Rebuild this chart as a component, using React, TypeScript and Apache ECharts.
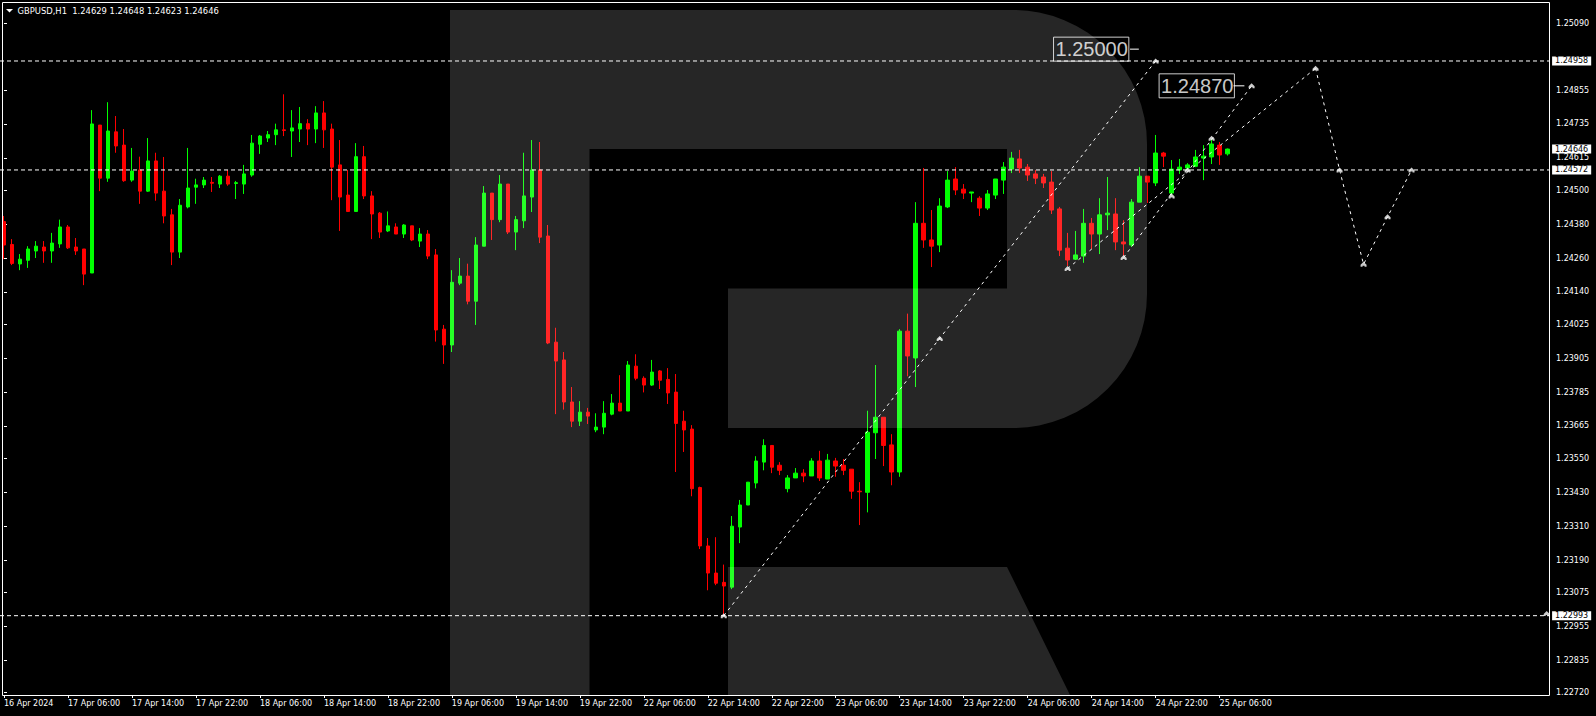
import React, { useEffect, useRef } from "react";
import * as echarts from "echarts";

// ---- candle data (GBPUSD H1), index 0 = 16 Apr 22:00 ----
const OPEN = [
  1.24389, 1.24308, 1.24239, 1.24252, 1.24285, 1.24299, 1.24285, 1.2431, 1.2437, 1.24299,
  1.24292, 1.24207, 1.24731, 1.24543, 1.24707, 1.2466, 1.24536, 1.24572, 1.24497, 1.24604,
  1.24497, 1.24413, 1.24281, 1.24441, 1.24511, 1.24519, 1.24528, 1.24522, 1.2455, 1.24524,
  1.24522, 1.24554, 1.24663, 1.24685, 1.24697, 1.24714, 1.2471, 1.24717, 1.24736, 1.24717,
  1.24774, 1.24717, 1.2459, 1.24483, 1.24425, 1.24619, 1.2448, 1.24419, 1.24356, 1.2437,
  1.24345, 1.24374, 1.2432, 1.24345, 1.24271, 1.24008, 1.23952, 1.24171, 1.24196, 1.24107,
  1.24302, 1.2449, 1.24396, 1.24522, 1.24352, 1.24392, 1.24476, 1.24572, 1.24338, 1.23962,
  1.23899, 1.2375, 1.23682, 1.23714, 1.23651, 1.23661, 1.23707, 1.23746, 1.23718, 1.23877,
  1.23834, 1.2381, 1.2386, 1.2383, 1.23785, 1.23682, 1.23654, 1.23447, 1.2324, 1.23144,
  1.23111, 1.23094, 1.23307, 1.23385, 1.23463, 1.23537, 1.23596, 1.23526, 1.23443, 1.23481,
  1.23498, 1.23488, 1.23541, 1.23477, 1.23541, 1.23526, 1.23512, 1.23434, 1.2343, 1.23641,
  1.23696, 1.23598, 1.23502, 1.24001, 1.23906, 1.24383, 1.24324, 1.24306, 1.24441, 1.2454,
  1.24504, 1.2449, 1.24472, 1.24437, 1.24483, 1.24536, 1.24575, 1.24611, 1.24582, 1.24558,
  1.24547, 1.24529, 1.24434, 1.24295, 1.24256, 1.24267, 1.24383, 1.24345, 1.24413, 1.24416,
  1.24317, 1.24306, 1.24458, 1.2455, 1.24526, 1.24632, 1.2449, 1.24572, 1.24579, 1.24585,
  1.24614, 1.24618, 1.2466, 1.24629,
];
const CLOSE = [
  1.24306, 1.24241, 1.24256, 1.24292, 1.24302, 1.24285, 1.24313, 1.2437, 1.24296, 1.24285,
  1.24203, 1.24735, 1.24543, 1.2471, 1.24657, 1.24534, 1.24568, 1.24497, 1.24604, 1.2449,
  1.24409, 1.24281, 1.24447, 1.24508, 1.24519, 1.24536, 1.24525, 1.2455, 1.24522, 1.24527,
  1.24558, 1.24667, 1.24692, 1.24697, 1.24714, 1.24712, 1.24721, 1.24736, 1.24717, 1.24774,
  1.24714, 1.24582, 1.24476, 1.24425, 1.24619, 1.2448, 1.24416, 1.24352, 1.24374, 1.24345,
  1.24377, 1.24324, 1.24345, 1.24267, 1.24005, 1.23952, 1.24174, 1.24196, 1.24107, 1.24306,
  1.2449, 1.24396, 1.24522, 1.24352, 1.24396, 1.2448, 1.24572, 1.24334, 1.23959, 1.23895,
  1.2375, 1.23682, 1.23714, 1.237, 1.23661, 1.2371, 1.23746, 1.23718, 1.23881, 1.23834,
  1.2381, 1.23856, 1.23827, 1.23782, 1.23674, 1.23651, 1.23443, 1.2324, 1.23144, 1.23108,
  1.23098, 1.2331, 1.23385, 1.23466, 1.23541, 1.23596, 1.23519, 1.23508, 1.23481, 1.23498,
  1.23488, 1.23541, 1.23481, 1.23544, 1.23523, 1.23508, 1.23434, 1.23432, 1.23643, 1.23696,
  1.23596, 1.23502, 1.24001, 1.23913, 1.24383, 1.24324, 1.24302, 1.24444, 1.24536, 1.24501,
  1.2449, 1.24494, 1.24437, 1.24487, 1.2454, 1.24582, 1.24614, 1.24579, 1.24554, 1.24543,
  1.24526, 1.2443, 1.24288, 1.24253, 1.24271, 1.24383, 1.24345, 1.24413, 1.24419, 1.24317,
  1.2431, 1.24458, 1.2455, 1.24529, 1.24632, 1.24621, 1.24575, 1.24582, 1.2459, 1.24618,
  1.24621, 1.24664, 1.24625, 1.24646,
];
const LOW = [
  1.24256, 1.24235, 1.24217, 1.24225, 1.2426, 1.24243, 1.24243, 1.24296, 1.24292, 1.24271,
  1.24164, 1.24207, 1.24497, 1.2453, 1.24633, 1.2453, 1.2453, 1.24452, 1.24494, 1.24463,
  1.24383, 1.24235, 1.2426, 1.24436, 1.24452, 1.24508, 1.24494, 1.24508, 1.24516, 1.24469,
  1.24487, 1.24548, 1.24629, 1.24671, 1.2466, 1.24692, 1.24618, 1.24671, 1.2466, 1.24667,
  1.2465, 1.24465, 1.24356, 1.24423, 1.24425, 1.24469, 1.24327, 1.24331, 1.24352, 1.24345,
  1.24331, 1.2432, 1.24299, 1.24256, 1.23964, 1.23885, 1.23927, 1.24164, 1.24096, 1.24023,
  1.24302, 1.24324, 1.24387, 1.24345, 1.24288, 1.24366, 1.24423, 1.24313, 1.23955, 1.23707,
  1.23723, 1.23661, 1.23665, 1.23672, 1.23643, 1.23636, 1.23703, 1.23718, 1.23718, 1.23827,
  1.23784, 1.23807, 1.23796, 1.23743, 1.23502, 1.23573, 1.23416, 1.23229, 1.23083, 1.23101,
  1.22993, 1.23087, 1.2325, 1.23385, 1.23444, 1.23508, 1.23498, 1.23491, 1.2343, 1.23481,
  1.23466, 1.23488, 1.2347, 1.23477, 1.23485, 1.23491, 1.23407, 1.23314, 1.23359, 1.23548,
  1.23523, 1.23455, 1.23485, 1.23841, 1.23803, 1.24296, 1.24228, 1.24281, 1.24437, 1.24483,
  1.24469, 1.24458, 1.24409, 1.2443, 1.24469, 1.24487, 1.24561, 1.24561, 1.24533, 1.24522,
  1.24508, 1.24416, 1.24267, 1.24232, 1.24253, 1.24243, 1.24292, 1.24274, 1.24359, 1.24288,
  1.24267, 1.24299, 1.24458, 1.24455, 1.24515, 1.24582, 1.24483, 1.24558, 1.24572, 1.24582,
  1.24536, 1.24593, 1.2459, 1.24623,
];
const HIGH = [
  1.24409, 1.24327, 1.24274, 1.24302, 1.2432, 1.2432, 1.24349, 1.24396, 1.24377, 1.24331,
  1.24292, 1.24784, 1.24731, 1.24812, 1.24763, 1.24717, 1.2465, 1.24619, 1.24685, 1.24633,
  1.24618, 1.24434, 1.24469, 1.2465, 1.24541, 1.24547, 1.24547, 1.24554, 1.24572, 1.24533,
  1.2459, 1.24696, 1.24696, 1.2471, 1.24736, 1.2484, 1.24784, 1.24795, 1.24752, 1.24798,
  1.24816, 1.24736, 1.24678, 1.24572, 1.24667, 1.24657, 1.24497, 1.24423, 1.24425, 1.24383,
  1.2438, 1.24374, 1.24366, 1.24359, 1.24292, 1.24023, 1.24217, 1.2426, 1.2424, 1.24334,
  1.24515, 1.2449, 1.24554, 1.24522, 1.24409, 1.24633, 1.24678, 1.24671, 1.24377, 1.24013,
  1.23927, 1.23803, 1.23753, 1.23729, 1.2371, 1.23753, 1.23778, 1.23845, 1.23895, 1.23919,
  1.23841, 1.23899, 1.23863, 1.2387, 1.23849, 1.23719, 1.23668, 1.2345, 1.23268, 1.23271,
  1.23174, 1.23346, 1.23403, 1.23466, 1.23558, 1.23618, 1.23596, 1.23537, 1.23491, 1.23516,
  1.23512, 1.23551, 1.23577, 1.23566, 1.23552, 1.23548, 1.23512, 1.23466, 1.23719, 1.23881,
  1.23696, 1.23636, 1.24008, 1.24063, 1.24458, 1.24579, 1.2443, 1.24472, 1.24568, 1.24582,
  1.24522, 1.24494, 1.24479, 1.24501, 1.2454, 1.246, 1.24636, 1.24643, 1.24593, 1.24572,
  1.24558, 1.24568, 1.24441, 1.24349, 1.24356, 1.24434, 1.24402, 1.24472, 1.24547, 1.24472,
  1.24394, 1.24469, 1.24582, 1.2455, 1.24696, 1.24636, 1.24607, 1.24611, 1.24596, 1.24643,
  1.2466, 1.24682, 1.24671, 1.24648,
];

// time labels, one every LABEL_STEP bars starting at bar 0
const LABEL_STEP = 8;
const TIME_LABELS = [
  "16 Apr 2024", "17 Apr 06:00", "17 Apr 14:00", "17 Apr 22:00", "18 Apr 06:00",
  "18 Apr 14:00", "18 Apr 22:00", "19 Apr 06:00", "19 Apr 14:00", "19 Apr 22:00",
  "22 Apr 06:00", "22 Apr 14:00", "22 Apr 22:00", "23 Apr 06:00", "23 Apr 14:00",
  "23 Apr 22:00", "24 Apr 06:00", "24 Apr 14:00", "24 Apr 22:00", "25 Apr 06:00",
];
const BAR_SLOTS = 194;

// price axis
const Y_MIN = 1.22712;
const Y_MAX = 1.25167;
const Y_TICKS = [
  1.2272, 1.22835, 1.22955, 1.23075, 1.2319, 1.2331, 1.2343, 1.2355, 1.23665, 1.23785,
  1.23905, 1.24025, 1.2414, 1.2426, 1.2438, 1.245, 1.24615, 1.24735, 1.24855, 1.2509,
];

// horizontal levels (dashed) and current price box
const LEVELS = [1.24958, 1.24572, 1.22993];
const CURRENT_PRICE = 1.24646;
const LINE_END = 193.2;

// analysis drawings (bar index, price)
const LINE_TARGET = [[90, 1.22993], [144, 1.24958]];
const LINE_CHANNEL = [[133, 1.24223], [164, 1.24932]];
const LINE_TARGET2 = [[140, 1.24262], [156, 1.2487]];
const LINE_FORECAST = [[164, 1.24932], [167, 1.24572], [170, 1.24238], [173, 1.24406], [176, 1.24572]];
const MARKERS = [
  [90, 1.22993], [117, 1.23975], [144, 1.24958], [133, 1.24223], [140, 1.24262],
  [146, 1.2448], [148, 1.24572], [151, 1.24684], [156, 1.2487], [164, 1.24932],
  [167, 1.24572], [170, 1.24238], [173, 1.24406], [176, 1.24572], [192.9, 1.23001],
];
const TARGETS = [
  { price: 1.25, anchor: 141.9, from: 140.8 },
  { price: 1.2487, anchor: 155.1, from: 153.75 },
];

const LOGO_D =
  "M450 10 L1013 10 A134 134 0 0 1 1147 144 L1147 294 A134 134 0 0 1 1013 428 L728 428 L728 288.5 L1007 288.5 L1007 149 L589.5 149 L589.5 695 L450 695 Z " +
  "M728 567 L1007 567 L1070 695 L728 695 Z";

const FONT = "DejaVu Sans";
const MARK_SYMBOL = "path://M3,0 L6,3 L6,5 L4,5 L4,4 L2,4 L2,5 L0,5 L0,3 Z";

export default function App() {
  const ref = useRef<HTMLDivElement>(null);

  useEffect(() => {
    document.body.style.margin = "0";
    document.body.style.background = "#000";
    if (!ref.current) return;
    echarts.graphic.registerShape("logo", echarts.graphic.extendPath(LOGO_D, {}) as any);
    const chart = echarts.init(ref.current, null, { renderer: "svg" });

    const categories = Array.from({ length: BAR_SLOTS }, (_, i) => String(i));
    const candles = OPEN.map((o, i) => [o, CLOSE[i], LOW[i], HIGH[i]]);
    const tickIdx = TIME_LABELS.map((_, k) => k * LABEL_STEP);
    const last = OPEN.length - 1;
    const title = `GBPUSD,H1  ${OPEN[last].toFixed(5)} ${HIGH[last].toFixed(5)} ${LOW[last].toFixed(5)} ${CLOSE[last].toFixed(5)}`;

    const dotted = { color: "#fff", width: 1, type: [3, 4] as any };
    const priceBox = (p: number) => ({
      show: true,
      formatter: p.toFixed(5),
      color: "#000",
      backgroundColor: "#fff",
      fontFamily: FONT,
      fontSize: 8,
      lineHeight: 9,
      padding: [0, 3, 0, 3],
      distance: 3,
    });

    const series: any[] = [
      {
        type: "candlestick",
        xAxisIndex: 0,
        yAxisIndex: 0,
        data: candles,
        barWidth: 4,
        silent: true,
        itemStyle: {
          color: "#00ff00",
          color0: "#ff0000",
          borderColor: "#00ff00",
          borderColor0: "#ff0000",
          borderWidth: 1,
        },
        z: 3,
      },
      ...LEVELS.map((p) => ({
        type: "line",
        xAxisIndex: 1,
        yAxisIndex: 0,
        data: [[-0.5, p], [LINE_END, p]],
        symbol: "none",
        silent: true,
        lineStyle: { color: "#fff", width: 1, type: [4, 3] },
        endLabel: priceBox(p),
        z: 4,
      })),
      {
        type: "line",
        xAxisIndex: 1,
        yAxisIndex: 0,
        data: [[LINE_END - 1, CURRENT_PRICE], [LINE_END, CURRENT_PRICE]],
        symbol: "none",
        silent: true,
        lineStyle: { opacity: 0 },
        endLabel: priceBox(CURRENT_PRICE),
        z: 5,
      },
      ...[LINE_TARGET, LINE_CHANNEL, LINE_TARGET2, LINE_FORECAST].map((d) => ({
        type: "line",
        xAxisIndex: 1,
        yAxisIndex: 0,
        data: d,
        symbol: "none",
        silent: true,
        lineStyle: dotted,
        z: 4,
      })),
      ...TARGETS.map((t) => ({
        type: "line",
        xAxisIndex: 1,
        yAxisIndex: 0,
        data: [[t.from, t.price], [t.anchor, t.price]],
        symbol: "none",
        silent: true,
        lineStyle: { color: "#fff", width: 1 },
        z: 4,
      })),
      {
        type: "scatter",
        xAxisIndex: 1,
        yAxisIndex: 0,
        data: TARGETS.map((t) => [t.anchor, t.price]),
        symbolSize: 0,
        silent: true,
        label: {
          show: true,
          position: "left",
          distance: 10,
          formatter: (p: any) => Number(p.value[1]).toFixed(5),
          color: "#fff",
          fontFamily: "Liberation Sans",
          fontSize: 20,
          lineHeight: 22,
          borderColor: "#fff",
          borderWidth: 1,
          padding: [1, 1, 1, 2],
        },
        z: 6,
      },
      {
        type: "scatter",
        xAxisIndex: 1,
        yAxisIndex: 0,
        data: MARKERS,
        symbol: MARK_SYMBOL,
        symbolSize: [6, 5],
        silent: true,
        itemStyle: { color: "#fff" },
        z: 6,
      },
    ];

    chart.setOption({
      animation: false,
      backgroundColor: "#000",
      grid: { left: -0.5, top: 2, width: 1552, height: 693, show: false },
      xAxis: [
        {
          type: "category",
          data: categories,
          boundaryGap: true,
          show: false,
        },
        {
          type: "value",
          min: -0.5,
          max: BAR_SLOTS - 0.5,
          position: "bottom",
          axisLine: { show: false },
          splitLine: { show: false },
          axisTick: { show: true, customValues: tickIdx, length: 3, lineStyle: { color: "#fff" } },
          axisLabel: {
            show: true,
            customValues: tickIdx,
            formatter: (v: number) => TIME_LABELS[Math.round(v / LABEL_STEP)] ?? "",
            color: "#fff",
            fontFamily: FONT,
            fontSize: 8,
            align: "left",
            margin: 4,
          },
        },
      ],
      yAxis: {
        type: "value",
        position: "right",
        offset: -1.5,
        min: Y_MIN,
        max: Y_MAX,
        scale: true,
        axisLine: { show: false },
        splitLine: { show: false },
        axisTick: { show: true, customValues: Y_TICKS, length: 3, lineStyle: { color: "#fff" } },
        axisLabel: {
          customValues: Y_TICKS,
          formatter: (v: number) => v.toFixed(5),
          color: "#fff",
          fontFamily: FONT,
          fontSize: 8,
          margin: 6,
        },
      },
      graphic: [
        {
          type: "logo",
          x: 0,
          y: 0,
          silent: true,
          z: 100,
          style: { fill: "rgba(255,255,255,0.15)" },
        },
        {
          type: "rect",
          silent: true,
          z: 101,
          shape: { x: 2.5, y: 2.5, width: 1547, height: 693 },
          style: { fill: "none", stroke: "#fff", lineWidth: 1 },
        },
        {
          type: "polygon",
          silent: true,
          z: 101,
          shape: { points: [[6, 9], [13, 9], [9.5, 12.5]] },
          style: { fill: "#fff" },
        },
        {
          type: "text",
          silent: true,
          z: 101,
          x: 17.5,
          y: 10.5,
          style: {
            text: title,
            fill: "#fff",
            fontFamily: FONT,
            fontSize: 8.4,
            verticalAlign: "middle",
          },
        },
      ],
      series,
    } as any);

    return () => chart.dispose();
  }, []);

  return <div ref={ref} style={{ width: 1596, height: 716, background: "#000" }} />;
}
